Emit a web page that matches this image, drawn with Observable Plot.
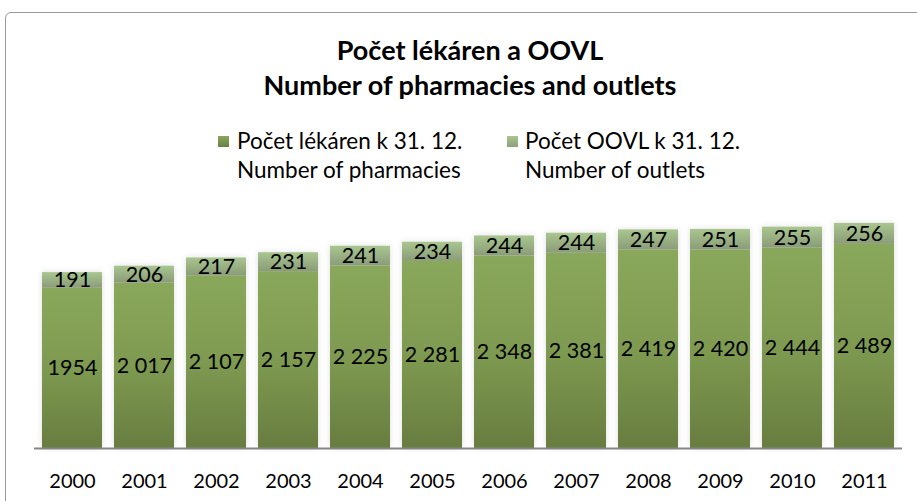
<!DOCTYPE html>
<html>
<head>
<meta charset="utf-8">
<script src="https://cdn.jsdelivr.net/npm/d3@7"></script>
<script src="https://cdn.jsdelivr.net/npm/@observablehq/plot@0.6"></script>
<style>
  html, body { margin: 0; padding: 0; background: #fff; }
  #wrap { position: relative; width: 917px; height: 501px; overflow: hidden; font-family: Lato, "Open Sans", sans-serif; color: #000; }
  #frame { position: absolute; left: 5px; top: 12px; width: 1000px; height: 1000px; border: 1.5px solid #9a9a9a; border-radius: 6px; box-sizing: border-box; }
  .title { position: absolute; left: 0; width: 940px; text-align: center; font-weight: bold; font-size: 27px; line-height: 32px; }
  .leg { position: absolute; font-size: 22.5px; line-height: 29px; white-space: nowrap; }
  .sw { position: absolute; width: 11px; height: 11px; }
  #chart { position: absolute; left: 0; top: 190px; }
</style>
</head>
<body>
<div id="wrap">
  <div id="frame"></div>
  <div class="title" style="top:34px">Počet lékáren a OOVL</div>
  <div class="title" style="top:69px">Number of pharmacies and outlets</div>
  <div class="sw" style="left:218px;top:136px;background:linear-gradient(#8aa85c,#6a7f42)"></div>
  <div class="leg" style="left:237px;top:126px">Počet lékáren k 31. 12.<br>Number of pharmacies</div>
  <div class="sw" style="left:507px;top:136px;background:linear-gradient(#a9c68f,#8c9f7a)"></div>
  <div class="leg" style="left:525px;top:126px">Počet OOVL k 31. 12.<br>Number of outlets</div>
  <div id="chart"></div>
</div>
<script>
const years = ["2000","2001","2002","2003","2004","2005","2006","2007","2008","2009","2010","2011"];
const pharmacies = [1954, 2017, 2107, 2157, 2225, 2281, 2348, 2381, 2419, 2420, 2444, 2489];
const pharmacyLabels = ["1954","2 017","2 107","2 157","2 225","2 281","2 348","2 381","2 419","2 420","2 444","2 489"];
const outlets = [191, 206, 217, 231, 241, 234, 244, 244, 247, 251, 255, 256];

const rows = [];
years.forEach((y, i) => {
  rows.push({year: y, series: "ph", value: pharmacies[i], label: pharmacyLabels[i]});
  rows.push({year: y, series: "out", value: outlets[i], label: String(outlets[i])});
});

const chart = Plot.plot({
  width: 917,
  height: 311,
  marginTop: 12,
  marginBottom: 53,
  marginLeft: 34,
  marginRight: 15,
  style: {fontFamily: "Lato, 'Open Sans', sans-serif", fontSize: "20px", color: "#000", background: "transparent"},
  x: {domain: years, paddingInner: 0.16, paddingOuter: 0.08, label: null, tickSize: 0, tickPadding: 25},
  y: {domain: [0, 3000], axis: null},
  marks: [
    Plot.barY(rows, Plot.stackY({
      x: "year", y: "value", order: ["ph", "out"], z: "series",
      fill: d => d.series === "ph" ? "url(#gPh)" : "url(#gOut)",
      className: "bars"
    })),
    Plot.text(rows, Plot.stackY({
      x: "year", y: "value", order: ["ph", "out"], z: "series",
      text: "label", fill: "#000", fontSize: 21.5
    })),
    Plot.ruleY([0], {stroke: "#868686", strokeWidth: 2})
  ]
});

const ns = "http://www.w3.org/2000/svg";
const defs = document.createElementNS(ns, "defs");
defs.innerHTML = `
  <linearGradient id="gPh" x1="0" y1="0" x2="0" y2="1">
    <stop offset="0" stop-color="#8aa85c"/>
    <stop offset="0.5" stop-color="#7e9a50"/>
    <stop offset="1" stop-color="#687d40"/>
  </linearGradient>
  <linearGradient id="gOut" x1="0" y1="0" x2="0" y2="1">
    <stop offset="0" stop-color="#a9c68f"/>
    <stop offset="1" stop-color="#8a9c78"/>
  </linearGradient>`;
chart.insertBefore(defs, chart.firstChild);
const bars = chart.querySelector("g.bars") || chart.querySelector("g[aria-label='bar']");
if (bars) bars.style.filter = "drop-shadow(0 0 3px rgba(0,0,0,0.12))";
document.getElementById("chart").appendChild(chart);
</script>
</body>
</html>
